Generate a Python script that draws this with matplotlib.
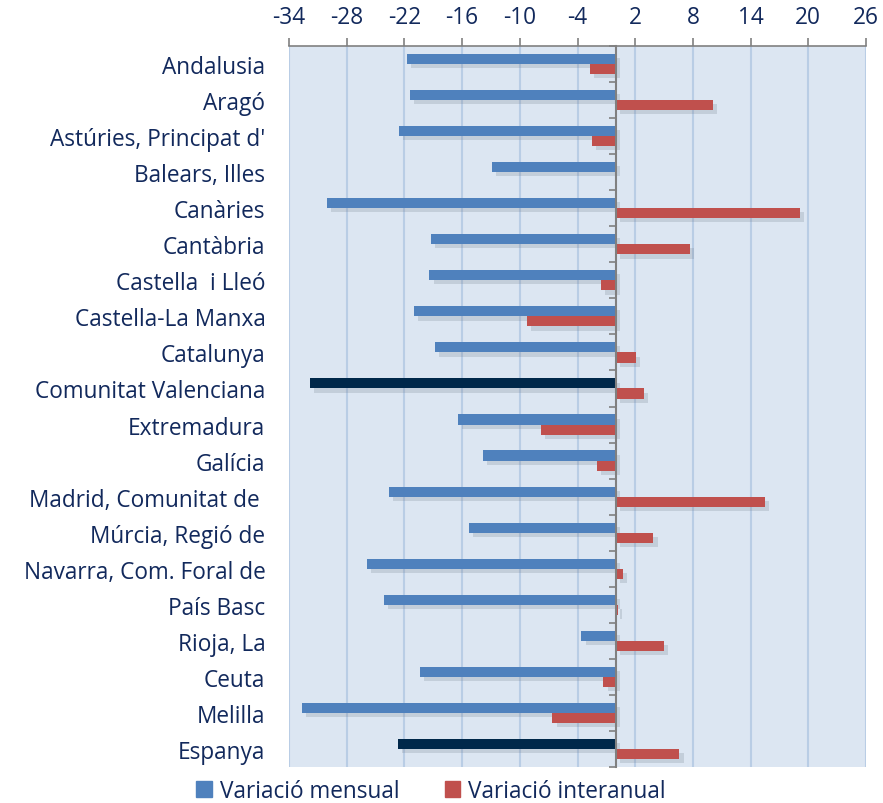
import numpy as np
import matplotlib
matplotlib.use("Agg")
import matplotlib.pyplot as plt
import matplotlib.patheffects as pe
from matplotlib.patches import Patch

regions = ["Andalusia", "Aragó", "Astúries, Principat d'", "Balears, Illes", "Canàries",
           "Cantàbria", "Castella  i Lleó", "Castella-La Manxa", "Catalunya",
           "Comunitat Valenciana", "Extremadura", "Galícia", "Madrid, Comunitat de ",
           "Múrcia, Regió de", "Navarra, Com. Foral de", "País Basc", "Rioja, La",
           "Ceuta", "Melilla", "Espanya"]
mensual = [-21.7, -21.4, -22.6, -12.9, -30.1, -19.2, -19.4, -21.0, -18.8, -31.8,
           -16.4, -13.8, -23.6, -15.3, -25.9, -24.1, -3.6, -20.4, -32.7, -22.7]
interanual = [-2.7, 10.1, -2.5, 0.0, 19.1, 7.7, -1.6, -9.3, 2.1, 2.9,
              -7.8, -2.0, 15.5, 3.9, 0.7, 0.2, 5.0, -1.3, -6.6, 6.6]
highlight = ["Comunitat Valenciana", "Espanya"]
xticks = list(range(-34, 27, 6))

plt.rcParams['font.family'] = ['Open Sans', 'DejaVu Sans']
plt.rcParams['axes.unicode_minus'] = False
txt = '#12295c'
blue, red, navy = '#4f81bd', '#c0504d', '#00284a'
fs = 16.3

fig = plt.figure(figsize=(8.83, 8.04), dpi=100)
ax = fig.add_axes([289/883, 1 - 768/804, (866-289)/883, (768-47)/804])
ax.set_facecolor('#dce6f2')

y = np.arange(len(regions))
h = 0.28
cols = [navy if r in highlight else blue for r in regions]
shadow = [pe.SimplePatchShadow(offset=(3, -3), shadow_rgbFace='#6d7a88', alpha=0.22), pe.Normal()]
b1 = ax.barh(y - h/2, mensual, height=h, color=cols, zorder=3)
b2 = ax.barh(y + h/2, interanual, height=h, color=red, zorder=3)
for b in list(b1) + list(b2):
    b.set_path_effects(shadow)

ax.set_xlim(-34, 26)
ax.set_ylim(len(regions) - 0.5, -0.5)
ax.set_xticks(xticks)
ax.xaxis.tick_top()
ax.tick_params(axis='x', colors='#808080', labelcolor=txt, labelsize=fs, length=6, width=1.2, pad=6)
ax.grid(axis='x', color='#b9cde5', lw=1.5, zorder=0)
ax.set_axisbelow(True)
for s in ['right', 'bottom']:
    ax.spines[s].set_visible(False)
ax.spines['top'].set_color('#808080')
ax.spines['top'].set_linewidth(1.2)

# vertical axis crosses at zero, ticks between categories
ax.spines['left'].set_position(('data', 0))
ax.spines['left'].set_color('#808080')
ax.spines['left'].set_linewidth(1.5)
ax.spines['left'].set_zorder(4)
ax.set_yticks(np.arange(-0.5, len(regions), 1))
ax.set_yticklabels([])
ax.tick_params(axis='y', colors='#808080', length=5, width=1.2)

sec = ax.secondary_yaxis('left')
sec.set_yticks(y, regions)
sec.tick_params(length=0, pad=17, labelsize=fs, labelcolor=txt)
sec.spines['left'].set_visible(False)

handles = [Patch(color=blue), Patch(color=red)]
fig.legend(handles, ['Variació mensual', 'Variació interanual'], loc='lower center',
           bbox_to_anchor=(0.488, -0.025), ncol=2, frameon=False, fontsize=fs,
           labelcolor=txt, handlelength=0.7, handleheight=0.7, handletextpad=0.35,
           columnspacing=2.0)

fig.savefig('out.png', dpi=100)
